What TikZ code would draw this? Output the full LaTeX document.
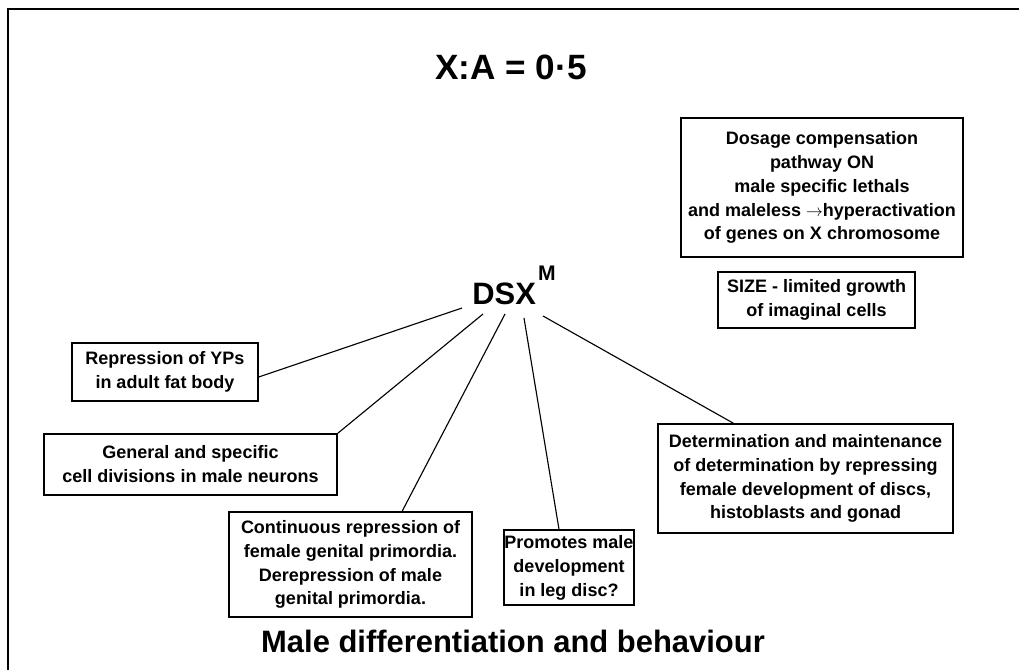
\documentclass[tikz,border=0pt]{standalone}
\usepackage{fontspec}
\setmainfont{Liberation Sans}
\begin{document}
\begin{tikzpicture}[x=0.025cm, y=-0.025cm,
    box/.style={draw, line width=1pt, align=center, inner sep=0pt,
      font=\fontsize{12.8}{17}\selectfont\bfseries},
    link/.style={line width=0.8pt}]
    \useasboundingbox (0,0) rectangle (1019,670);
    \draw [line width=1.3pt] (8,670) -- (8,9) -- (1019,9);
    \node (ratio) [anchor=base, inner sep=0pt] at (511,80) {\fontsize{25}{25}\selectfont\bfseries X:A = 0·5};
    \node (dsx) [anchor=base west, inner sep=0pt] at (472,304) {\fontsize{22}{22}\selectfont\bfseries DSX\kern1.5pt\raisebox{17pt}{\fontsize{15}{15}\selectfont M}};
    \node (dos) [box, minimum width=7.05cm, minimum height=3.475cm] at (822,187.5) {Dosage compensation\\pathway ON\\male specific lethals\\and maleless $\rightarrow$hyperactivation\\of genes on X chromosome};
    \node (size) [box, minimum width=4.925cm, minimum height=1.4cm] at (816.5,300) {SIZE - limited growth\\of imaginal cells};
    \node (yps) [box, minimum width=4.65cm, minimum height=1.45cm] at (165,372) {Repression of YPs\\in adult fat body};
    \node (gen) [box, minimum width=7.325cm, minimum height=1.525cm] at (190.5,464.5) {General and specific\\cell divisions in male neurons};
    \node (cont) [box, minimum width=6.075cm, minimum height=2.625cm] at (350.5,564.5) {Continuous repression of\\female genital primordia.\\Derepression of male\\genital primordia.};
    \node (prom) [box, minimum width=3.25cm, minimum height=1.875cm] at (569,567.5) {Promotes male\\development\\in leg disc?};
    \node (det) [box, minimum width=7.375cm, minimum height=2.725cm] at (805.5,478.5) {Determination and maintenance\\of determination by repressing\\female development of discs,\\histoblasts and gonad};
    \node (male) [anchor=base, inner sep=0pt] at (513,652) {\fontsize{22}{22}\selectfont\bfseries Male differentiation and behaviour};
    % line starts under DSX
    \coordinate (s1) at (462,308);
    \coordinate (s2) at (483,314);
    \coordinate (s3) at (505,314);
    \coordinate (s4) at (524,318);
    \coordinate (s5) at (543,316);
    \draw [link] (s1) -- ([yshift=-0.125cm]yps.east);
    \draw [link] (s2) -- (gen.north east);
    \draw [link] (s3) -- ([xshift=1.29cm]cont.north);
    \draw [link] (s4) -- ([xshift=-0.25cm]prom.north);
    \draw [link] (s5) -- ([xshift=-1.8cm]det.north);
\end{tikzpicture}
\end{document}
